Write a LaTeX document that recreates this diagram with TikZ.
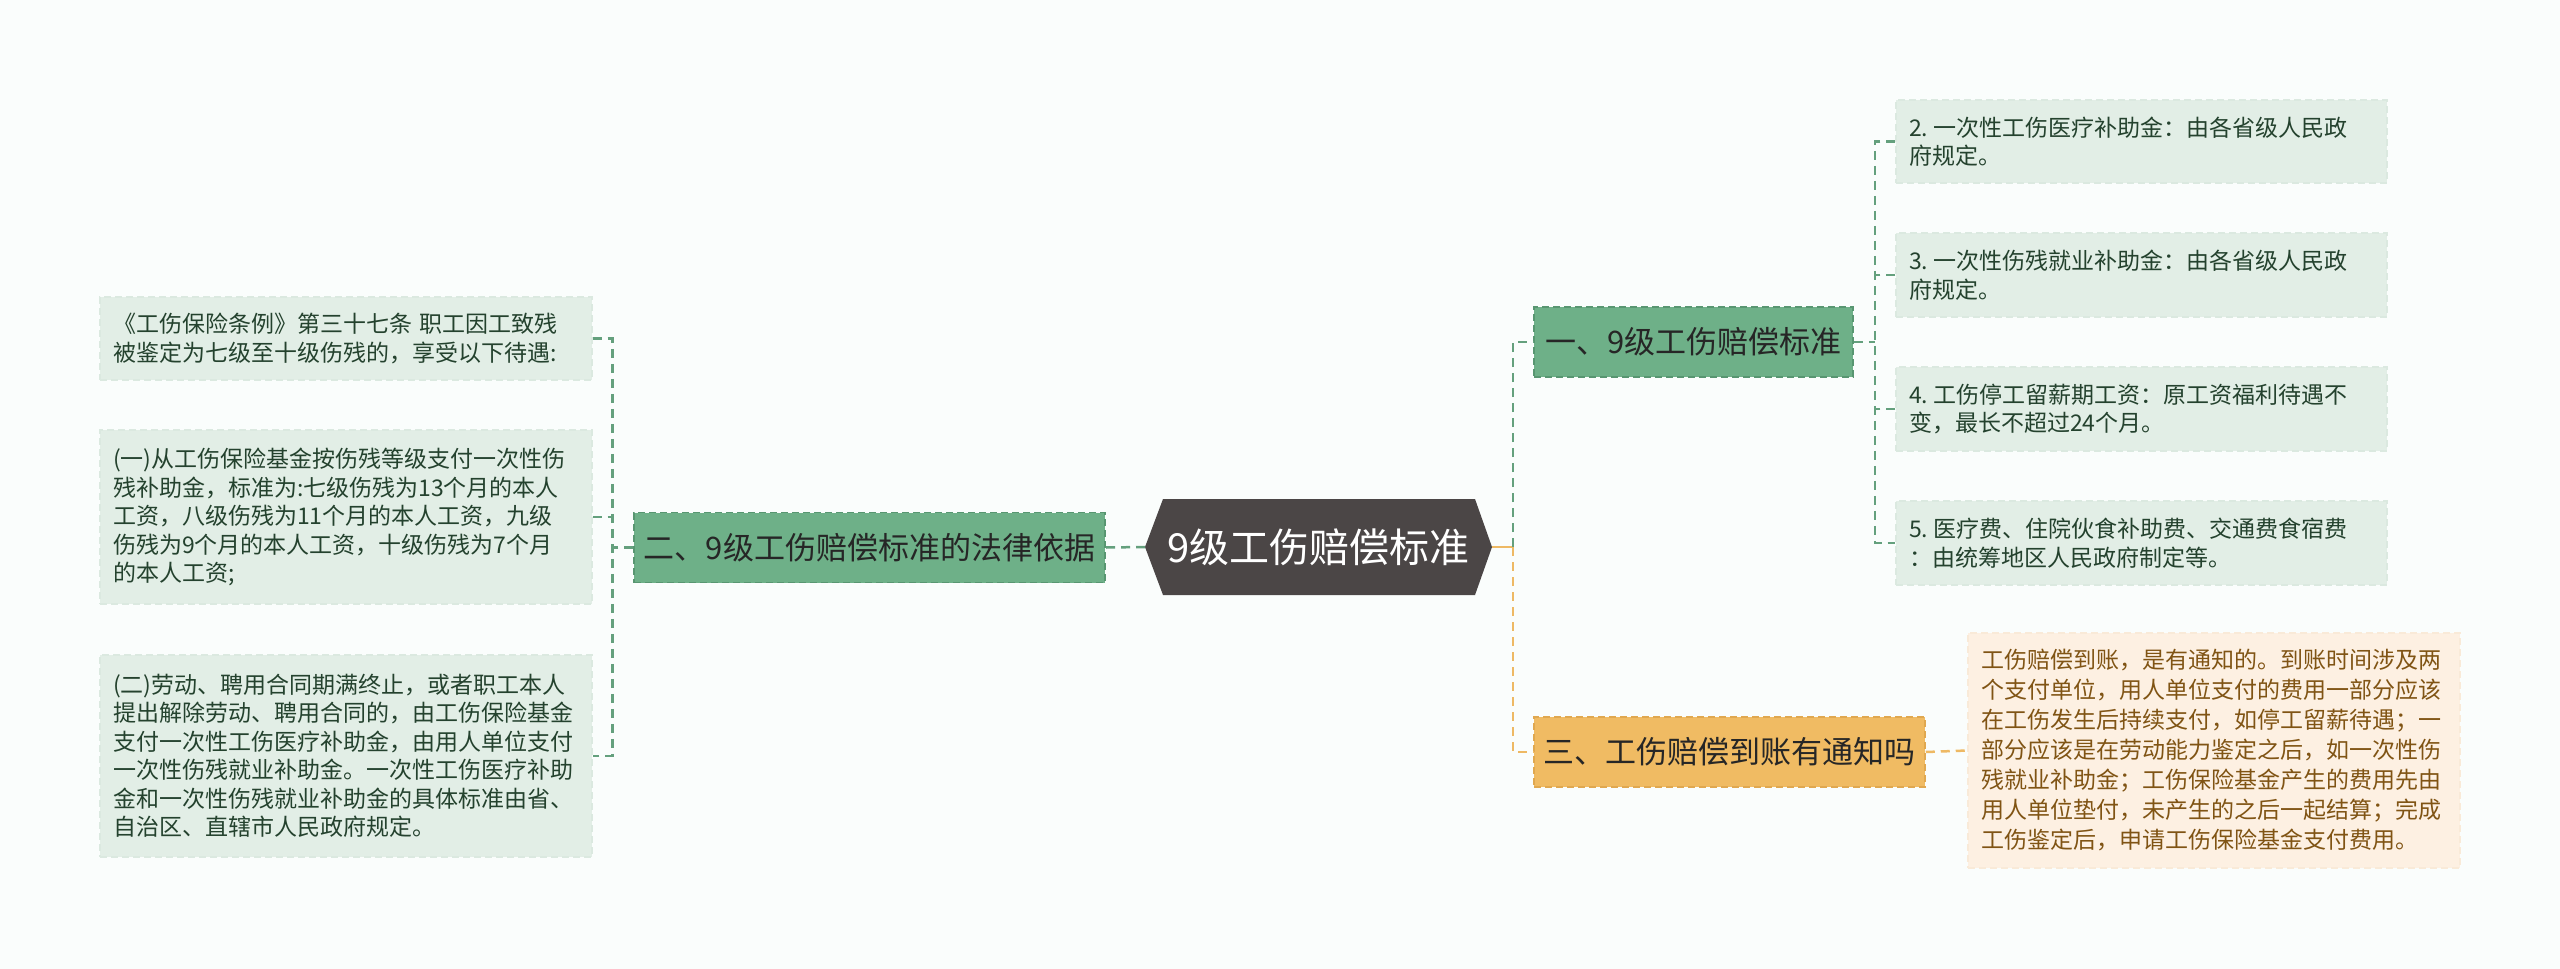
\documentclass[tikz,border=0pt]{standalone}
\usepackage{fontspec}
\setmainfont{Noto Sans CJK SC}
\usetikzlibrary{positioning,calc}
\definecolor{bgcol}{RGB}{250,253,252}
\definecolor{topicgray}{RGB}{75,70,70}
\definecolor{branchgreen}{RGB}{110,176,136}
\definecolor{branchgreenline}{RGB}{88,150,113}
\definecolor{branchorange}{RGB}{240,187,99}
\definecolor{branchorangeline}{RGB}{224,168,80}
\definecolor{branchtext}{RGB}{38,38,38}
\definecolor{leafgreen}{RGB}{226,238,230}
\definecolor{leafgreenline}{RGB}{219,233,224}
\definecolor{leafgtext}{RGB}{36,66,46}
\definecolor{leaforange}{RGB}{253,240,226}
\definecolor{leaforangeline}{RGB}{249,234,216}
\definecolor{leafotext}{RGB}{128,84,20}
\definecolor{linkgreen}{RGB}{100,160,125}
\definecolor{linkorange}{RGB}{238,185,100}
\newcommand{\numgap}{\hspace{5pt}}
\tikzset{
  topictext/.style={text=white, font=\fontsize{40}{48}\selectfont,
    minimum width=312pt, minimum height=96pt, inner sep=0pt},
  greenbranch/.style={rectangle, fill=branchgreen, draw=branchgreenline,
    line width=1.5pt, dash pattern=on 7pt off 4pt, text=branchtext,
    font=\fontsize{31}{36}\selectfont, minimum height=70pt, inner sep=0pt},
  orangebranch/.style={greenbranch, fill=branchorange, draw=branchorangeline},
  leafg/.style={rectangle, fill=leafgreen, draw=leafgreenline,
    line width=1.2pt, dash pattern=on 7pt off 4pt, text=leafgtext,
    font=\fontsize{23}{28.5}\selectfont, align=left, text width=466pt,
    inner xsep=13pt, inner ysep=0pt},
  leafo/.style={leafg, fill=leaforange, draw=leaforangeline, text=leafotext,
    font=\fontsize{23}{30}\selectfont},
  linkg/.style={draw=linkgreen, line width=2.5pt, dash pattern=on 9pt off 6pt},
  linko/.style={draw=linkorange, line width=2.5pt, dash pattern=on 9pt off 6pt}
}

\begin{document}
\begin{tikzpicture}[x=1pt,y=-1pt]
    \fill[bgcol] (0,0) rectangle (2560,969);
    \useasboundingbox (0,0) rectangle (2560,969);

    % Central topic (hexagon with pointed ends)
    \fill[topicgray] (1145,547) -- (1163,499) -- (1475,499) -- (1492,547)
        -- (1475,595) -- (1163,595) -- cycle;
    \coordinate (topicW) at (1145,547);
    \coordinate (topicE) at (1492,547);
    \node[topictext] (topic) at (1318.5,547) {9级工伤赔偿标准};

    % Left branch and its leaves
    \node[greenbranch, minimum width=471pt] (branchB) at (869.5,547.5)
        {二、9级工伤赔偿标准的法律依据};
    \node[leafg, minimum height=83pt] (leafL1) at (346,338.5)
        {《工伤保险条例》第三十七条 职工因工致残\\被鉴定为七级至十级伤残的，享受以下待遇:};
    \node[leafg, minimum height=174pt] (leafL2) at (346,517)
        {(一)从工伤保险基金按伤残等级支付一次性伤\\残补助金，标准为:七级伤残为13个月的本人\\工资，八级伤残为11个月的本人工资，九级\\伤残为9个月的本人工资，十级伤残为7个月\\的本人工资;};
    \node[leafg, minimum height=202pt] (leafL3) at (346,756)
        {(二)劳动、聘用合同期满终止，或者职工本人\\提出解除劳动、聘用合同的，由工伤保险基金\\支付一次性工伤医疗补助金，由用人单位支付\\一次性伤残就业补助金。一次性工伤医疗补助\\金和一次性伤残就业补助金的具体标准由省、\\自治区、直辖市人民政府规定。};

    % Right branches
    \node[greenbranch, minimum width=319pt] (branchA) at (1693.5,342)
        {一、9级工伤赔偿标准};
    \node[orangebranch, minimum width=391pt] (branchC) at (1729.5,752)
        {三、工伤赔偿到账有通知吗};

    % Leaves of branch one
    \node[leafg, text width=465pt, minimum height=83pt] (leafR2) at (2141.5,141.5)
        {2.\numgap 一次性工伤医疗补助金：由各省级人民政\\府规定。};
    \node[leafg, text width=465pt, minimum height=84pt] (leafR3) at (2141.5,275)
        {3.\numgap 一次性伤残就业补助金：由各省级人民政\\府规定。};
    \node[leafg, text width=465pt, minimum height=84pt] (leafR4) at (2141.5,409)
        {4.\numgap 工伤停工留薪期工资：原工资福利待遇不\\变，最长不超过24个月。};
    \node[leafg, text width=465pt, minimum height=84pt] (leafR5) at (2141.5,543)
        {5.\numgap 医疗费、住院伙食补助费、交通费食宿费\\：由统筹地区人民政府制定等。};

    % Leaf of branch three
    \node[leafo, minimum height=235pt] (leafO) at (2214,750.5)
        {工伤赔偿到账，是有通知的。到账时间涉及两\\个支付单位，用人单位支付的费用一部分应该\\在工伤发生后持续支付，如停工留薪待遇；一\\部分应该是在劳动能力鉴定之后，如一次性伤\\残就业补助金；工伤保险基金产生的费用先由\\用人单位垫付，未产生的之后一起结算；完成\\工伤鉴定后，申请工伤保险基金支付费用。};

    % Connectors on the left
    \draw[linkg] (topicW) -- (branchB.east);
    \draw[linkg] (branchB.west) -- ++(-21,0) coordinate (jL);
    \draw[linkg] (leafL1.east) -| (jL) |- (leafL3.east);
    \draw[linkg] (leafL2.east) -- (leafL2.east -| jL);

    % Connectors on the right
    \draw[draw=linkorange, line width=2.5pt] (topicE) -- ++(21,0) coordinate (jR);
    \draw[linkg] (jR) |- (branchA.west);
    \draw[linko] (jR) |- (branchC.west);
    \draw[linkg] (branchA.east) -- ++(21,0) coordinate (jA);
    \draw[linkg] (leafR2.west) -| (jA) |- (leafR5.west);
    \draw[linkg] (leafR3.west) -- (leafR3.west -| jA);
    \draw[linkg] (leafR4.west) -- (leafR4.west -| jA);
    \draw[linko] (branchC.east) -- (leafO.west);
\end{tikzpicture}
\end{document}
